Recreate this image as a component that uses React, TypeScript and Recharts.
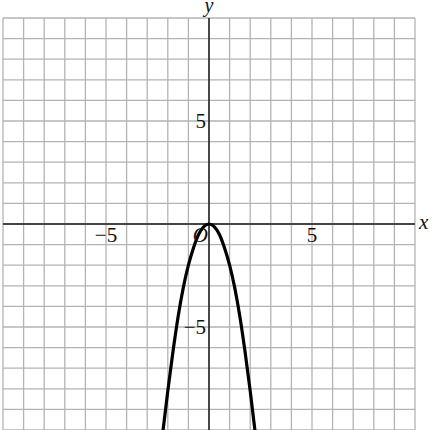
import React from "react";
import {
  LineChart,
  Line,
  XAxis,
  YAxis,
  CartesianGrid,
  ReferenceLine,
  ReferenceDot,
} from "recharts";

// grid runs from -10 to 10 on both axes
const gridTicks = [
  -10, -9, -8, -7, -6, -5, -4, -3, -2, -1, 0, 1, 2, 3, 4, 5, 6, 7, 8, 9, 10,
];

// parabola (vertex at origin, opens downward)
const curveX = [
  -2.3, -2.0, -1.75, -1.5, -1.25, -1.0, -0.75, -0.5, -0.25, 0, 0.25, 0.5, 0.75,
  1.0, 1.25, 1.5, 1.75, 2.0, 2.3,
];
const curveY = [
  -10.6, -8.1, -6.2, -4.5, -3.1, -2.0, -1.15, -0.5, -0.13, 0, -0.13, -0.5,
  -1.15, -2.0, -3.1, -4.5, -6.2, -8.1, -10.6,
];

const xTickLabels = [
  { value: -5, text: "\u22125" },
  { value: 5, text: "5" },
];
const yTickLabels = [
  { value: 5, text: "5" },
  { value: -5, text: "\u22125" },
];

const data = curveX.map((x, i) => ({ x, y: curveY[i] }));

const FONT = "'Liberation Serif', 'DejaVu Serif', serif";

function PointText({
  viewBox,
  text,
  dx = 0,
  dy = 0,
  anchor = "middle",
  italic = false,
  size = 21,
}: any) {
  if (!viewBox) return null;
  const cx = viewBox.x + viewBox.width / 2;
  const cy = viewBox.y + viewBox.height / 2;
  return (
    <text
      x={cx + dx}
      y={cy + dy}
      textAnchor={anchor}
      fontFamily={FONT}
      fontSize={size}
      fontStyle={italic ? "italic" : "normal"}
      fill="#111"
    >
      {text}
    </text>
  );
}

export default function App() {
  return (
    <div style={{ position: "absolute", left: 0, top: 0, background: "#fff" }}>
      <LineChart
        width={434}
        height={430}
        data={data}
        margin={{ top: 18, right: 19, bottom: 0, left: 3 }}
      >
        <CartesianGrid stroke="#b3b3b3" strokeWidth={1.3} />
        <XAxis
          type="number"
          dataKey="x"
          domain={[-10, 10]}
          ticks={gridTicks}
          interval={0}
          allowDataOverflow
          hide
        />
        <YAxis
          type="number"
          dataKey="y"
          domain={[-10, 10]}
          ticks={gridTicks}
          interval={0}
          allowDataOverflow
          hide
        />
        <ReferenceLine
          y={0}
          stroke="#444"
          strokeWidth={2}
          label={<PointText text="x" italic anchor="start" dx={210} dy={5} />}
        />
        <ReferenceLine x={0} stroke="#111" strokeWidth={1.4} />
        <Line
          type="monotone"
          dataKey="y"
          stroke="#000"
          strokeWidth={3.2}
          dot={false}
          isAnimationActive={false}
        />
        {xTickLabels.map((t) => (
          <ReferenceDot
            key={"x" + t.value}
            x={t.value}
            y={0}
            r={0}
            fill="none"
            stroke="none"
            label={<PointText text={t.text} dy={18} />}
          />
        ))}
        {yTickLabels.map((t) => (
          <ReferenceDot
            key={"y" + t.value}
            x={0}
            y={t.value}
            r={0}
            fill="none"
            stroke="none"
            label={<PointText text={t.text} anchor="end" dx={-3} dy={7} />}
          />
        ))}
        <ReferenceDot
          x={0}
          y={0}
          r={0}
          fill="none"
          stroke="none"
          label={<PointText text="O" italic anchor="end" dx={-1} dy={18} />}
        />
        <ReferenceDot
          x={0}
          y={10}
          r={0}
          fill="none"
          stroke="none"
          label={<PointText text="y" italic size={20} dy={-6} />}
        />
      </LineChart>
    </div>
  );
}
